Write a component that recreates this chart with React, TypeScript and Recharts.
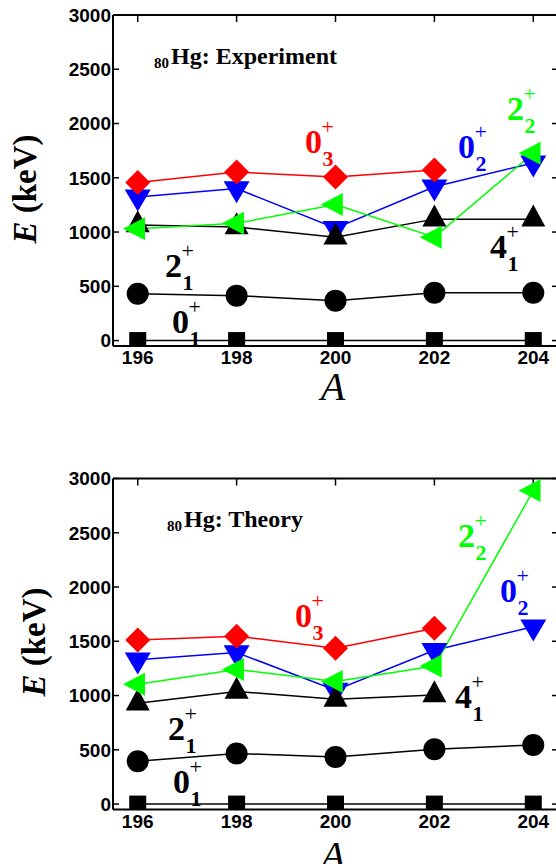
import { LineChart, Line, XAxis, YAxis } from "recharts";

const massNumbers = [196, 198, 200, 202, 204];
const xTicks = [196, 198, 200, 202, 204];
const yTicks = [0, 500, 1000, 1500, 2000, 2500, 3000];

// experiment, keV
const exp01 = [0, 0, 0, 0, 0];
const exp21 = [431, 414, 368, 440, 440];
const exp41 = [1065, 1047, 952, 1119, 1119];
const exp02 = [1324, 1401, 1035, 1417, 1637];
const exp22 = [1031, 1080, 1253, 953, 1727];
const exp03 = [1457, 1553, 1507, 1572, null];

// theory, keV
const th01 = [0, 0, 0, 0, 0];
const th21 = [395, 466, 434, 505, 545];
const th41 = [930, 1038, 965, 1005, null];
const th02 = [1330, 1396, 1050, 1417, 1634];
const th22 = [1105, 1240, 1130, 1272, 2889];
const th03 = [1511, 1547, 1435, 1620, null];

const SERIF = "'Liberation Serif', 'Times New Roman', serif";
const SANS = "'Liberation Sans', Arial, sans-serif";
const RED = "#ff0000";
const BLUE = "#0000ff";
const GREEN = "#00ff00";
const BLACK = "#000000";

const buildRows = (s01, s21, s41, s02, s22, s03) =>
  massNumbers.map((A, i) => ({ A, s01: s01[i], s21: s21[i], s41: s41[i], s02: s02[i], s22: s22[i], s03: s03[i] }));

const expRows = buildRows(exp01, exp21, exp41, exp02, exp22, exp03);
const thRows = buildRows(th01, th21, th41, th02, th22, th03);

type Shape = "square" | "circle" | "up" | "down" | "left" | "diamond";

function marker(shape: Shape, color: string) {
  return (props: any) => {
    const { cx, cy, index, value } = props;
    if (cx == null || cy == null || value == null || Number.isNaN(cy)) return <g key={index} />;
    if (shape === "square") return <rect key={index} x={cx - 8.5} y={cy - 8.5} width={17} height={17} fill={color} />;
    if (shape === "circle") return <circle key={index} cx={cx} cy={cy} r={11} fill={color} />;
    let pts = "";
    if (shape === "up") pts = `${cx},${cy - 14.7} ${cx - 12},${cy + 7.3} ${cx + 12},${cy + 7.3}`;
    if (shape === "down") pts = `${cx - 13},${cy - 7.3} ${cx + 13},${cy - 7.3} ${cx},${cy + 14.7}`;
    if (shape === "left") pts = `${cx - 14.7},${cy} ${cx + 7.3},${cy - 11.5} ${cx + 7.3},${cy + 11.5}`;
    if (shape === "diamond") pts = `${cx},${cy - 12.5} ${cx + 12.5},${cy} ${cx},${cy + 12.5} ${cx - 12.5},${cy}`;
    return <polygon key={index} points={pts} fill={color} />;
  };
}

const series: { key: string; shape: Shape; color: string }[] = [
  { key: "s01", shape: "square", color: BLACK },
  { key: "s21", shape: "circle", color: BLACK },
  { key: "s02", shape: "down", color: BLUE },
  { key: "s41", shape: "up", color: BLACK },
  { key: "s22", shape: "left", color: GREEN },
  { key: "s03", shape: "diamond", color: RED },
];

type Note = { main: string; sub: string; color: string; x: number; y: number };

function StateLabel({ n }: { n: Note }) {
  return (
    <g fill={n.color} fontFamily={SERIF}>
      <text x={n.x} y={n.y} fontSize={34} fontWeight={700}>{n.main}</text>
      <text x={n.x + 17.5} y={n.y + 13} fontSize={22} fontWeight={700}>{n.sub}</text>
      <text x={n.x + 16.5} y={n.y - 19} fontSize={22}>+</text>
    </g>
  );
}

const axisStroke = { stroke: "#000", strokeWidth: 2 };
const tickStroke = { stroke: "#000", strokeWidth: 1.5 };
const noLabel = (p: any) => <g key={p.index} />;

function Panel({ rows, top, plotTop, title, notes, eX, eY, aY, titleY }: any) {
  return (
    <div style={{ position: "absolute", left: 0, top, width: 600, height: 430 }}>
      <LineChart
        width={600}
        height={430}
        data={rows}
        margin={{ top: plotTop - 1, right: 42, bottom: 430 - plotTop - 330 - 60, left: 43 }}
      >
        <XAxis
          xAxisId="b"
          dataKey="A"
          type="number"
          domain={[195.5, 204.5]}
          ticks={xTicks}
          allowDataOverflow
          height={60}
          tickLine={false}
          tickMargin={-1}
          axisLine={axisStroke}
          tick={{ fill: "#000", fontSize: 19, fontWeight: 700, fontFamily: SANS }}
        />
        <XAxis
          xAxisId="t"
          dataKey="A"
          orientation="top"
          type="number"
          domain={[195.5, 204.5]}
          ticks={xTicks}
          allowDataOverflow
          height={1}
          mirror
          tickSize={7}
          axisLine={axisStroke}
          tickLine={tickStroke}
          tick={noLabel}
        />
        <YAxis
          yAxisId="lt"
          type="number"
          domain={[-50, 3000]}
          ticks={yTicks}
          allowDataOverflow
          width={1}
          mirror
          tickSize={6}
          axisLine={false}
          tickLine={tickStroke}
          tick={noLabel}
        />
        <YAxis
          yAxisId="l"
          type="number"
          domain={[-50, 3000]}
          ticks={yTicks}
          allowDataOverflow
          width={70}
          tickLine={false}
          tickMargin={-4}
          axisLine={axisStroke}
          tick={{ fill: "#000", fontSize: 19, fontWeight: 700, fontFamily: SANS }}
        />
        <YAxis
          yAxisId="r"
          orientation="right"
          type="number"
          domain={[-50, 3000]}
          ticks={yTicks}
          allowDataOverflow
          width={1}
          mirror
          tickSize={6}
          axisLine={axisStroke}
          tickLine={tickStroke}
          tick={noLabel}
        />
        {/* invisible carriers so the frame axes get a scale */}
        <Line xAxisId="t" yAxisId="r" dataKey="s01" stroke="none" dot={false} activeDot={false} legendType="none" isAnimationActive={false} />
        <Line xAxisId="t" yAxisId="lt" dataKey="s01" stroke="none" dot={false} activeDot={false} legendType="none" isAnimationActive={false} />
        {series.map((s) => (
          <Line
            key={s.key}
            xAxisId="b"
            yAxisId="l"
            dataKey={s.key}
            stroke={s.color}
            strokeWidth={1.5}
            dot={marker(s.shape, s.color)}
            activeDot={false}
            isAnimationActive={false}
          />
        ))}
      </LineChart>
      <svg width={600} height={430} style={{ position: "absolute", left: 0, top: 0, pointerEvents: "none" }}>
        <text x={title.x} y={titleY + 4} fontFamily={SERIF} fontSize={15} fontWeight={700}>80</text>
        <text x={title.x + 17} y={titleY} fontFamily={SERIF} fontSize={24} fontWeight={700}>{title.text}</text>
        {notes.map((n: Note, i: number) => (
          <StateLabel key={i} n={n} />
        ))}
        <text transform={`translate(${eX},${eY}) rotate(-90)`} textAnchor="middle" fontFamily={SERIF} fontSize={33} fontWeight={700}>
          <tspan fontStyle="italic">E</tspan> (keV)
        </text>
        <text x={333} y={aY} textAnchor="middle" fontFamily={SERIF} fontSize={40} fontStyle="italic">A</text>
      </svg>
    </div>
  );
}

const expNotes: Note[] = [
  { main: "0", sub: "3", color: RED, x: 305, y: 153 },
  { main: "0", sub: "2", color: BLUE, x: 458, y: 158 },
  { main: "2", sub: "2", color: GREEN, x: 507, y: 120 },
  { main: "4", sub: "1", color: BLACK, x: 490, y: 258 },
  { main: "2", sub: "1", color: BLACK, x: 165, y: 277 },
  { main: "0", sub: "1", color: BLACK, x: 172, y: 333 },
];

const thNotes: Note[] = [
  { main: "0", sub: "3", color: RED, x: 295, y: 187 },
  { main: "2", sub: "2", color: GREEN, x: 458, y: 107 },
  { main: "0", sub: "2", color: BLUE, x: 500, y: 162 },
  { main: "4", sub: "1", color: BLACK, x: 455, y: 268 },
  { main: "2", sub: "1", color: BLACK, x: 168, y: 300 },
  { main: "0", sub: "1", color: BLACK, x: 173, y: 353 },
];

export default function App() {
  return (
    <div style={{ position: "absolute", left: 0, top: 0, width: 556, height: 864, overflow: "hidden", background: "#fff" }}>
      <Panel
        rows={expRows}
        top={0}
        plotTop={16}
        title={{ x: 154, text: "Hg: Experiment" }}
        titleY={64}
        notes={expNotes}
        eX={36}
        eY={189}
        aY={400}
      />
      <Panel
        rows={thRows}
        top={440}
        plotTop={39.5}
        title={{ x: 167, text: "Hg: Theory" }}
        titleY={87}
        notes={thNotes}
        eX={45}
        eY={202}
        aY={429}
      />
    </div>
  );
}
